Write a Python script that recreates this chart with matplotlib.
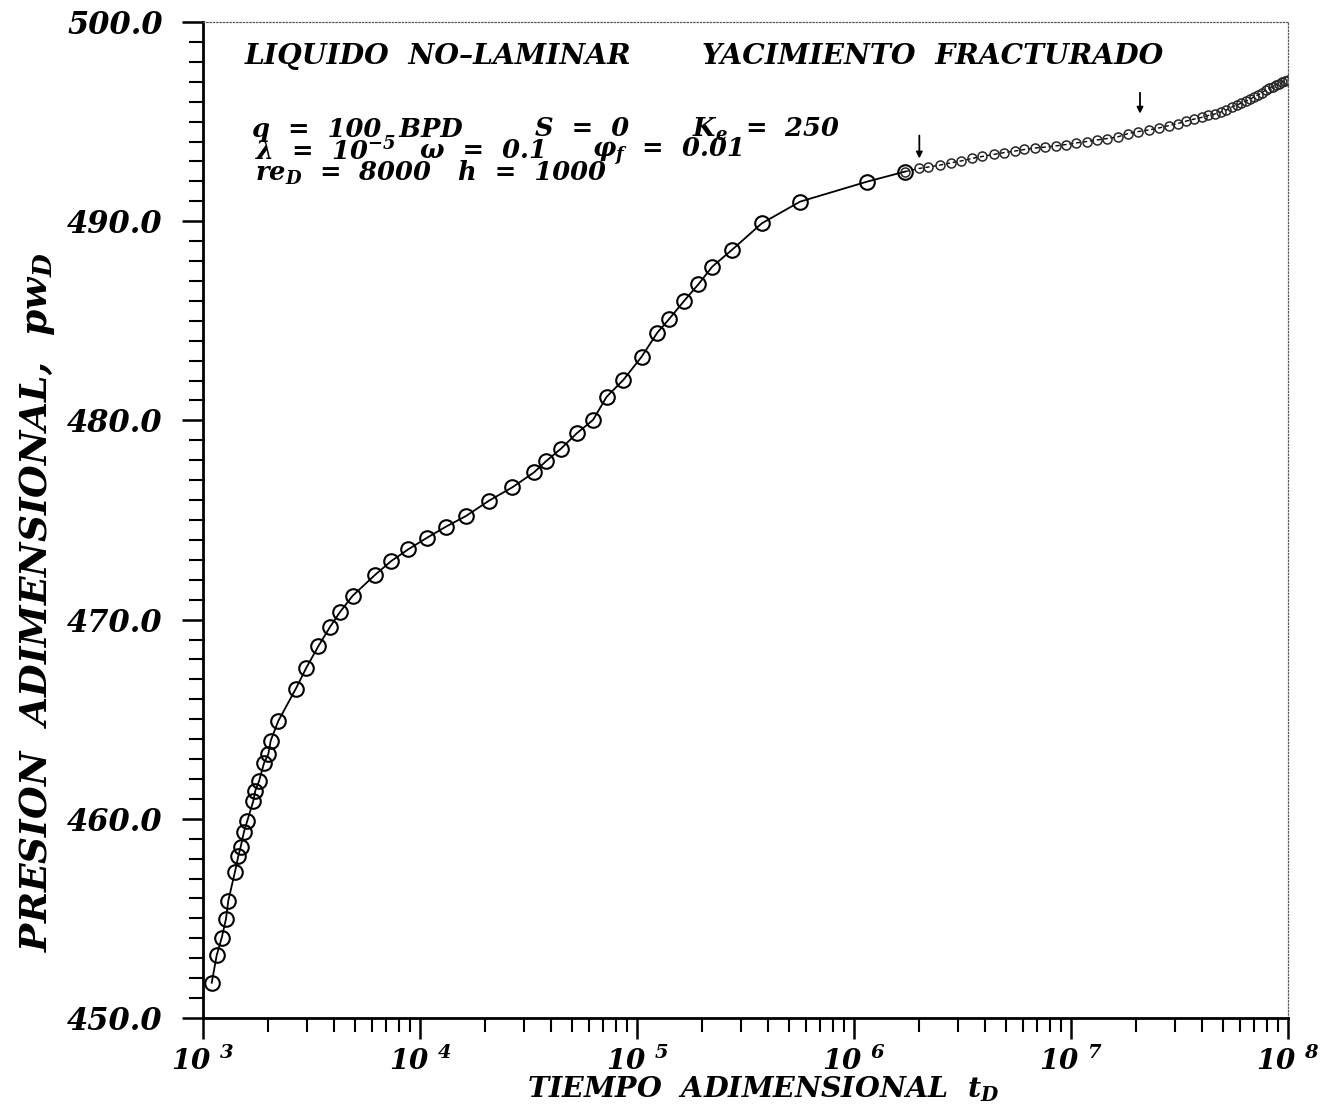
import numpy as np
import matplotlib
matplotlib.use('Agg')
import matplotlib.pyplot as plt
from matplotlib.ticker import MultipleLocator, LogLocator, NullFormatter, FormatStrFormatter, FuncFormatter

# Curva principal (circulos): tiempo adimensional y presion adimensional
t_main = [1097, 1157, 1220, 1276, 1308, 1404, 1455, 1492, 1545, 1600, 1705, 1742,
          1811, 1910, 2000, 2051, 2223, 2675, 2992, 3399, 3848, 4278, 4896, 6201,
          7350, 8833, 10740, 13140, 16290, 20800, 26630, 33520, 38070, 44640, 52740,
          62690, 72500, 86480, 105100, 124000, 140400, 165200, 191700, 222300,
          273200, 375600, 563800, 1.144e6, 1.718e6]
p_main = [451.77, 453.16, 454.03, 454.97, 455.89, 457.34, 458.13, 458.60, 459.35,
          459.90, 460.89, 461.41, 461.88, 462.79, 463.25, 463.92, 464.91, 466.52,
          467.58, 468.66, 469.63, 470.38, 471.20, 472.24, 472.93, 473.53, 474.10,
          474.66, 475.20, 475.97, 476.64, 477.39, 477.95, 478.58, 479.35, 480.02,
          481.19, 482.03, 483.20, 484.40, 485.08, 486.01, 486.83, 487.72, 488.55,
          489.89, 490.98, 491.98, 492.49]

# Tramo final (puntos densos)
t_dense = [2.0e6, 2.2e6, 2.5e6, 2.8e6, 3.1e6, 3.5e6, 3.9e6, 4.4e6, 4.9e6, 5.5e6,
           6.1e6, 6.8e6, 7.6e6, 8.5e6, 9.5e6, 1.06e7, 1.18e7, 1.32e7, 1.47e7, 1.64e7,
           1.83e7, 2.04e7, 2.28e7, 2.54e7, 2.83e7, 3.1e7, 3.4e7, 3.7e7, 4.0e7, 4.3e7,
           4.6e7, 4.9e7, 5.2e7, 5.5e7, 5.8e7, 6.1e7, 6.4e7, 6.7e7, 7.0e7, 7.3e7,
           7.6e7, 7.9e7, 8.2e7, 8.5e7, 8.8e7, 9.1e7, 9.4e7, 9.7e7, 1.0e8]
p_dense = [492.65, 492.72, 492.82, 492.93, 493.02, 493.15, 493.25, 493.35, 493.44,
           493.52, 493.60, 493.67, 493.72, 493.78, 493.85, 493.93, 494.00, 494.08,
           494.15, 494.23, 494.40, 494.50, 494.58, 494.68, 494.80, 494.90, 495.03,
           495.13, 495.21, 495.31, 495.38, 495.48, 495.58, 495.73, 495.83, 495.93,
           496.03, 496.13, 496.24, 496.34, 496.46, 496.59, 496.69, 496.76, 496.84,
           496.91, 496.99, 497.04, 497.09]

# Flechas (tiempos marcados)
t_arrows = [2.0e6, 2.08e7]
p_arrow_top = [494.3, 496.45]
p_arrow_bot = [493.15, 495.4]

plt.rcParams['font.family'] = ['DejaVu Serif']
plt.rcParams['font.weight'] = 'bold'
plt.rcParams['font.style'] = 'italic'
plt.rcParams['mathtext.fontset'] = 'custom'
plt.rcParams['mathtext.rm'] = 'DejaVu Serif:bold:italic'
plt.rcParams['mathtext.it'] = 'DejaVu Serif:bold:italic'
plt.rcParams['mathtext.bf'] = 'DejaVu Serif:bold:italic'

W, H = 1328, 1110
def fx(x):
    return x / W
def fy(y):
    return 1 - y / H

fig = plt.figure(figsize=(W / 100, H / 100), dpi=100)
ax = fig.add_axes([fx(203), fy(1018), fx(1288) - fx(203), fy(22) - fy(1018)])

ax.plot(t_main, p_main, color='k', lw=1.3, marker='o', ms=10.5, mfc='none', mec='k', mew=1.5)
ax.plot([t_main[-1]] + t_dense, [p_main[-1]] + p_dense, color='k', lw=1.0,
        linestyle=(0, (3, 2)), marker='o', ms=6.5, mfc='none', mec='0.15', mew=1.1)

for t, y0, y1 in zip(t_arrows, p_arrow_top, p_arrow_bot):
    ax.annotate('', xy=(t, y1), xytext=(t, y0),
                arrowprops=dict(arrowstyle='-|>', color='k', lw=1.3, mutation_scale=9,
                                shrinkA=0, shrinkB=0))

ax.set_xscale('log')
ax.set_xlim(1e3, 1e8)
ax.set_ylim(450, 500)

ax.yaxis.set_major_locator(MultipleLocator(10))
ax.yaxis.set_minor_locator(MultipleLocator(1))
ax.yaxis.set_major_formatter(FormatStrFormatter('%.1f'))
ax.xaxis.set_major_locator(LogLocator(base=10))
ax.xaxis.set_minor_locator(LogLocator(base=10, subs=np.arange(2, 10)))
ax.xaxis.set_minor_formatter(NullFormatter())
ax.xaxis.set_major_formatter(FuncFormatter(lambda v, pos: '10 $^{%d}$' % round(np.log10(v))))

ax.tick_params(which='major', direction='out', length=15, width=1.8)
ax.tick_params(which='minor', direction='out', length=10, width=1.5)
ax.tick_params(axis='y', which='major', pad=14, labelsize=22)
ax.tick_params(axis='x', which='major', pad=6, labelsize=20)
ax.tick_params(top=False, right=False)

for s in ['left', 'bottom']:
    ax.spines[s].set_linewidth(2)
for s in ['top', 'right']:
    ax.spines[s].set_linewidth(0.9)
    ax.spines[s].set_linestyle(':')
    ax.spines[s].set_color('0.35')

# Titulos y parametros
fig.text(fx(245), fy(57), 'LIQUIDO  NO\u2013LAMINAR', fontsize=20.3, va='center')
fig.text(fx(702), fy(57), 'YACIMIENTO  FRACTURADO', fontsize=20.3, va='center')

fs = 18.5
fig.text(fx(252), fy(129), 'q  =  100  BPD', fontsize=fs, va='center')
fig.text(fx(535), fy(129), 'S  =  0', fontsize=fs, va='center')
fig.text(fx(692), fy(129), 'K$_e$  =  250', fontsize=fs, va='center')
fig.text(fx(255), fy(151), 'λ  =  10$^{-5}$', fontsize=fs, va='center')
fig.text(fx(420), fy(151), 'ω  =  0.1', fontsize=fs, va='center')
fig.text(fx(592), fy(151), 'φ$_f$  =  0.01', fontsize=fs, va='center')
fig.text(fx(255), fy(173), 're$_D$  =  8000', fontsize=fs, va='center')
fig.text(fx(458), fy(173), 'h  =  1000', fontsize=fs, va='center')

fig.text(fx(763), fy(1089), 'TIEMPO  ADIMENSIONAL  t$_D$', fontsize=20.5, ha='center', va='center')
fig.text(fx(37), fy(602), 'PRESION  ADIMENSIONAL,  pw$_D$', fontsize=27, ha='center', va='center',
         rotation=90)

fig.savefig('out.png', dpi=100, facecolor='white')
